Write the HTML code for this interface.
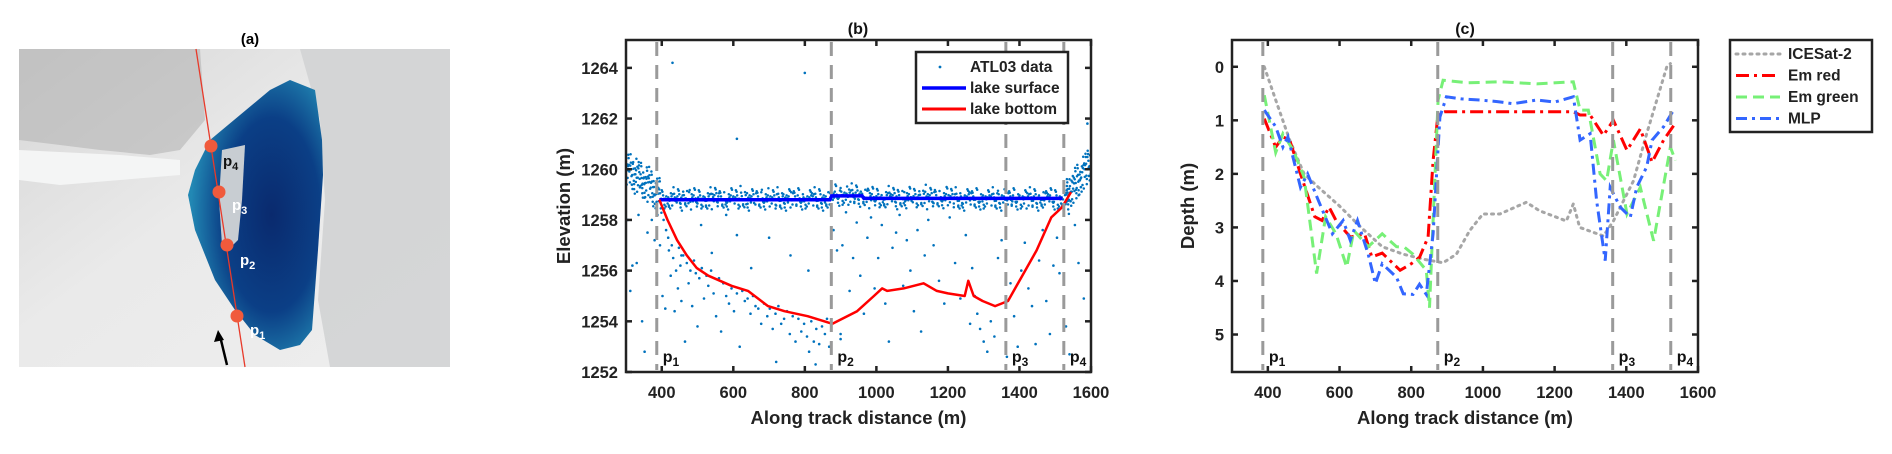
<!DOCTYPE html>
<html><head><meta charset="utf-8">
<style>
html,body{margin:0;padding:0;background:#fff;}
svg{display:block;font-family:"Liberation Sans",Arial,sans-serif;font-weight:bold;}
</style></head>
<body>
<svg id="fig" width="1892" height="454" viewBox="0 0 1892 454" xmlns="http://www.w3.org/2000/svg">
<defs>
<radialGradient id="lakeg" cx="0.62" cy="0.5" r="0.6">
<stop offset="0" stop-color="#0a2a6e"/><stop offset="0.6" stop-color="#0b3f86"/><stop offset="1" stop-color="#2288b4"/>
</radialGradient>
<linearGradient id="snowg" x1="0" y1="0" x2="1" y2="1">
<stop offset="0" stop-color="#d6d6d6"/><stop offset="0.45" stop-color="#eaeaea"/><stop offset="1" stop-color="#eeeeee"/>
</linearGradient>
</defs>
<g>
<text x="250" y="44" font-size="15" text-anchor="middle">(a)</text>
<rect x="19" y="49" width="431" height="318" fill="url(#snowg)"/>
<path d="M19,49 L200,49 L205,120 L180,150 L150,155 L100,150 L60,145 L19,140 Z" fill="#b4b4b4" opacity="0.6"/>
<path d="M300,49 L450,49 L450,367 L330,367 L318,300 L325,200 L320,120 Z" fill="#d2d3d4" opacity="0.9"/>
<path d="M19,150 L120,155 L180,160 L180,175 L120,180 L60,185 L19,180 Z" fill="#f4f5f5"/>
<path d="M290,80 L315,90 L322,140 L323,175 L318,250 L312,330 L300,345 L280,350 L255,335 L235,310 L215,280 L195,230 L188,195 L195,170 L210,140 L240,115 L270,90 Z" fill="url(#lakeg)"/>
<path d="M222,150 L245,145 L242,200 L238,240 L230,248 L222,245 L219,200 Z" fill="#c8cdd2"/>
<line x1="196" y1="49" x2="245" y2="367" stroke="#e83a2a" stroke-width="1.3"/>
<circle cx="211" cy="146" r="6.5" fill="#f05a3c"/>
<circle cx="219" cy="192" r="6.5" fill="#f05a3c"/>
<circle cx="227" cy="245" r="6.5" fill="#f05a3c"/>
<circle cx="237" cy="316" r="6.5" fill="#f05a3c"/>
<text x="223" y="166" font-size="15" fill="#111">p<tspan font-size="11" dy="4">4</tspan></text>
<text x="232" y="210" font-size="15" fill="#fff">p<tspan font-size="11" dy="4">3</tspan></text>
<text x="240" y="265" font-size="15" fill="#fff">p<tspan font-size="11" dy="4">2</tspan></text>
<text x="250" y="335" font-size="15" fill="#fff">p<tspan font-size="11" dy="4">1</tspan></text>
<line x1="227" y1="365" x2="220" y2="336" stroke="#000" stroke-width="2.5"/>
<path d="M218,330 L214,342 L224,340 Z" fill="#000"/>
</g>
<g id="pb"></g>
<g id="pc"></g>
</svg>
<script>
const bXTicks = [400, 600, 800, 1000, 1200, 1400, 1600];
const bYTicks = [1252, 1254, 1256, 1258, 1260, 1262, 1264];
const markerX = [386, 874, 1362, 1524];
const markerLabels = ['1', '2', '3', '4'];
const bottomX = [393, 416, 443, 470, 498, 530, 595, 641, 697, 743, 808, 877, 946, 993, 1016, 1030, 1076, 1132, 1169, 1200, 1247, 1257, 1272, 1297, 1332, 1368, 1408, 1448, 1489, 1519, 1544];
const bottomY = [1258.8, 1258.0, 1257.2, 1256.6, 1256.1, 1255.8, 1255.4, 1255.2, 1254.6, 1254.4, 1254.2, 1253.9, 1254.4, 1255.0, 1255.3, 1255.2, 1255.3, 1255.5, 1255.2, 1255.1, 1255.0, 1255.6, 1255.0, 1254.8, 1254.6, 1254.8, 1255.8, 1256.8, 1258.1, 1258.5, 1259.1];
const surfLineX = [393, 870, 875, 960, 965, 1520];
const surfLineY = [1258.8, 1258.8, 1258.95, 1258.95, 1258.85, 1258.85];
const surfPhotX = [300,310,320,330,340,350,360,370,380,390,400,420,440,460,480,500,520,540,560,580,600,620,640,660,680,700,720,740,760,780,800,820,840,860,880,900,920,940,960,980,1000,1020,1040,1060,1080,1100,1120,1140,1160,1180,1200,1220,1240,1260,1280,1300,1320,1340,1360,1380,1400,1420,1440,1460,1480,1500,1520,1530,1540,1550,1560,1570,1580,1590,1600];
const surfPhotY = [1260.0,1259.9,1259.8,1259.75,1259.6,1259.5,1259.4,1259.3,1259.1,1259.0,1258.85,1258.85,1258.85,1258.9,1258.85,1258.85,1258.85,1258.9,1258.85,1258.85,1258.85,1258.9,1258.85,1258.85,1258.85,1258.85,1258.85,1258.85,1258.85,1258.85,1258.85,1258.85,1258.85,1258.85,1259.0,1259.0,1259.0,1259.0,1258.95,1258.9,1258.9,1258.9,1258.9,1258.9,1258.9,1258.9,1258.95,1258.9,1258.9,1258.9,1258.9,1258.85,1258.85,1258.85,1258.85,1258.85,1258.85,1258.85,1258.85,1258.85,1258.85,1258.85,1258.85,1258.85,1258.85,1258.85,1258.9,1259.0,1259.2,1259.4,1259.6,1259.8,1260.0,1260.2,1260.3];
const noiseX = [305,312,318,330,345,352,360,372,380,388,395,402,405,410,412,418,420,425,428,432,436,440,445,448,452,455,460,465,470,475,480,485,490,495,500,505,512,518,525,530,538,545,552,560,566,572,580,588,595,602,610,618,625,632,640,648,655,662,670,678,686,695,702,710,718,726,734,742,750,758,766,774,782,790,798,806,812,818,825,832,840,848,856,862,868,430,455,510,540,580,610,650,700,720,760,800,830,880,890,900,905,915,925,935,945,955,965,975,985,995,1005,1015,1025,1035,1045,1055,1065,1075,1085,1095,1105,1115,1125,1135,1145,1160,1175,1190,1205,1220,1235,1250,1262,1268,1275,1282,1290,1300,1310,1320,1330,1340,1350,1365,1375,1385,1395,1405,1415,1425,1435,1445,1455,1465,1475,1485,1495,1505,1512,1530,1540,1555,1565,1580,1590,335,610,810,900];
const noiseY = [1258.0,1255.2,1256.2,1256.3,1254.0,1252.8,1257.5,1258.0,1257.2,1258.2,1257.0,1255.0,1258.0,1254.5,1257.6,1257.3,1256.8,1255.8,1257.0,1256.5,1254.4,1256.0,1255.3,1256.9,1256.2,1254.8,1256.6,1253.2,1256.3,1255.5,1256.0,1254.6,1256.4,1255.9,1253.8,1255.7,1256.1,1254.9,1255.8,1255.4,1256.0,1255.1,1254.2,1255.7,1253.6,1255.5,1255.0,1254.7,1255.3,1254.4,1255.1,1253.0,1255.2,1254.8,1254.9,1254.3,1255.0,1254.6,1254.5,1253.9,1254.7,1254.2,1254.5,1253.7,1254.3,1254.6,1253.9,1254.1,1254.4,1253.5,1254.2,1253.2,1254.1,1253.6,1253.9,1253.4,1252.8,1254.0,1253.2,1253.7,1253.1,1253.8,1253.5,1254.1,1253.0,1264.2,1256.6,1257.8,1256.7,1258.2,1261.2,1256.1,1257.3,1252.4,1256.6,1263.8,1252.3,1257.6,1256.8,1253.5,1257.0,1258.3,1255.2,1256.5,1257.9,1255.8,1254.3,1257.3,1258.1,1255.3,1256.5,1257.8,1254.7,1253.2,1256.9,1257.5,1258.2,1255.4,1257.2,1256.0,1254.4,1257.6,1253.6,1256.6,1258.0,1257.0,1255.6,1254.7,1258.1,1256.3,1254.9,1257.4,1253.9,1256.1,1255.0,1254.3,1253.7,1253.2,1252.8,1254.0,1253.4,1256.5,1257.2,1252.6,1255.5,1254.2,1253.0,1256.0,1257.1,1255.3,1254.6,1253.1,1256.4,1257.6,1254.8,1253.5,1256.2,1257.3,1255.9,1253.8,1252.7,1257.8,1256.3,1254.9,1261.8,1258.2,1257.4,1256.0,1253.3,1254.0,1264.2,1261.3,1264.0,1252.2];

const cYTicks = [0, 1, 2, 3, 4, 5];
const iceX = [390,422,461,501,541,600,660,719,778,838,889,926,963,1000,1047,1121,1158,1233,1252,1270,1336,1364,1420,1457,1513,1523];
const iceY = [0.0,0.62,1.37,2.0,2.25,2.6,3.0,3.36,3.5,3.6,3.66,3.5,3.06,2.75,2.75,2.53,2.69,2.88,2.56,3.0,3.16,2.88,2.13,1.25,0.0,-0.06];
const redX = [390,422,442,461,491,531,551,571,590,630,670,690,719,769,800,823,847,861,875,893,1252,1271,1299,1336,1364,1402,1439,1472,1504,1532];
const redY = [0.97,1.5,1.31,1.37,2.0,2.8,2.87,2.62,2.87,3.18,3.12,3.55,3.48,3.8,3.68,3.56,3.18,1.75,0.87,0.84,0.84,0.9,0.9,1.28,1.0,1.56,1.16,1.78,1.37,1.1];
const greenX = [390,422,442,471,501,536,561,590,620,640,680,719,759,781,805,842,851,875,889,960,1050,1150,1252,1271,1294,1327,1345,1364,1402,1439,1476,1523,1537];
const greenY = [0.53,1.6,1.25,1.56,2.06,3.86,2.8,3.12,3.74,3.06,3.36,3.12,3.36,3.37,3.5,3.8,4.5,0.62,0.25,0.3,0.28,0.32,0.28,0.81,0.81,2.0,2.13,1.37,2.75,2.25,3.25,1.5,1.75];
const mlpX = [390,422,442,456,491,511,541,580,610,630,650,680,700,719,759,778,805,823,842,861,880,898,940,991,1040,1084,1150,1200,1252,1271,1299,1317,1341,1355,1383,1411,1429,1457,1472,1504,1532];
const mlpY = [0.81,1.12,1.5,1.31,2.25,2.0,2.5,3.12,2.87,3.24,2.87,3.5,4.05,3.68,3.93,4.24,4.25,4.06,4.25,3.12,0.94,0.56,0.6,0.62,0.65,0.69,0.62,0.66,0.56,1.37,1.25,2.5,3.62,2.25,2.62,2.81,2.25,1.87,1.37,1.12,0.81];

const NS = 'http://www.w3.org/2000/svg';
function mk(parent, tag, attrs, text) {
  const e = document.createElementNS(NS, tag);
  for (const k in attrs) e.setAttribute(k, attrs[k]);
  if (text !== undefined) e.textContent = text;
  parent.appendChild(e);
  return e;
}
function lineStr(xs, ys, sx, sy) {
  return xs.map((v, i) => (i ? 'L' : 'M') + sx(v).toFixed(1) + ',' + sy(ys[i]).toFixed(1)).join(' ');
}

function axesFrame(g, L, T, R, B, sx, sy, xt, yt, yLabelOffset, yLabelText, title, titleX) {
  markerX.forEach((m, i) => {
    const ln = mk(g, 'line', {x1: sx(m), y1: T + 2, x2: sx(m), y2: B - 2, stroke: '#9a9a9a', 'stroke-width': 3, 'stroke-dasharray': '14,9'});
    
    
    const t = mk(g, 'text', {x: sx(m) + 6, y: B - 10, 'font-size': 16, fill: '#111'});
    
    
    t.textContent = 'p';
    mk(t, 'tspan', {'font-size': 12, dy: 4}, markerLabels[i]);
  });
  const fr = mk(g, 'rect', {x: L, y: T, width: R - L, height: B - T, fill: 'none', stroke: '#222', 'stroke-width': 2.5});
  
  
  xt.forEach(v => {
    const x = sx(v);
    const a = mk(g, 'line', {x1: x, y1: B, x2: x, y2: B - 6, stroke: '#222', 'stroke-width': 2.5});
    
    
    mk(g, 'line', {x1: x, y1: T, x2: x, y2: T + 6, stroke: '#222', 'stroke-width': 2.5});
    const lb = mk(g, 'text', {x: x, y: B + 26, 'font-size': 16.5, 'text-anchor': 'middle', fill: '#222'}, String(v));
    
    
  });
  yt.forEach(v => {
    const y = sy(v);
    const a = mk(g, 'line', {x1: L, y1: y, x2: L + 6, y2: y, stroke: '#222', 'stroke-width': 2.5});
    
    
    mk(g, 'line', {x1: R, y1: y, x2: R - 6, y2: y, stroke: '#222', 'stroke-width': 2.5});
    const lb = mk(g, 'text', {x: L - 8, y: y + 6, 'font-size': 16.5, 'text-anchor': 'end', fill: '#222'}, String(v));
    
    
  });
  const xl = mk(g, 'text', {x: (L + R) / 2, y: B + 52, 'font-size': 18.5, 'text-anchor': 'middle', fill: '#222'}, 'Along track distance (m)');
  
  
  const yl = mk(g, 'text', {x: 0, y: 0, 'font-size': 18.5, 'text-anchor': 'middle', fill: '#222', transform: 'translate(' + (L - yLabelOffset) + ',' + (T + B) / 2 + ') rotate(-90)'}, yLabelText);
  
  
  const tt = mk(g, 'text', {x: titleX, y: 34, 'font-size': 16, 'text-anchor': 'middle', fill: '#111'}, title);
  
  
}

(function () {
  const g = document.getElementById('pb');
  const L = 626, R = 1091, T = 40, B = 372;
  const sx = v => L + (v - 300) / 1300 * (R - L);
  const sy = v => B - (v - 1252) / 13.1 * (B - T);
  const clip = mk(g, 'clipPath', {id: 'clipb'});
  mk(clip, 'rect', {x: L, y: T, width: R - L, height: B - T});
  const dots = mk(g, 'g', {'clip-path': 'url(#clipb)', fill: '#0072bd'});
  
  
  const jy = [-0.32, -0.2, -0.1, 0, 0.08, 0.16, 0.26, -0.4, 0.36, -0.05, 0.12, -0.25];
  surfPhotX.forEach((x, i) => {
    const spread = (x < 400 || x > 1520) ? 1.7 : 1;
    const step = (x < 400 || x > 1520) ? 10 : 20;
    jy.forEach((d, k) => {
      const off = ((i * 7 + k * 5) % 11) / 11 * step;
      const dj = d * spread + (((i * 3 + k * 7) % 5) - 2) * 0.04;
      const c = mk(dots, 'circle', {cx: sx(x + off).toFixed(1), cy: sy(surfPhotY[i] + dj).toFixed(1), r: 1.25});
      
      
    });
  });
  noiseX.forEach((x, i) => {
    const c = mk(dots, 'circle', {cx: sx(x).toFixed(1), cy: sy(noiseY[i]).toFixed(1), r: 1.3});
    
    
  });
  const sl = mk(g, 'path', {d: lineStr(surfLineX, surfLineY, sx, sy), stroke: '#0000ff', 'stroke-width': 3.5, fill: 'none'});
  
  
  const bl = mk(g, 'path', {d: lineStr(bottomX, bottomY, sx, sy), stroke: '#ff0000', 'stroke-width': 2.5, fill: 'none', 'stroke-linejoin': 'round'});
  
  
  axesFrame(g, L, T, R, B, sx, sy, bXTicks, bYTicks, 56, 'Elevation (m)', '(b)', 858);
  const lg = mk(g, 'g', {});
  
  
  mk(lg, 'rect', {x: 916, y: 52, width: 152, height: 71, fill: '#fff', stroke: '#222', 'stroke-width': 2.5});
  const e1 = mk(lg, 'circle', {cx: 940, cy: 67, r: 1.4, fill: '#0072bd'});
  
  
  mk(lg, 'text', {x: 970, y: 72, 'font-size': 15.5, fill: '#222'}, 'ATL03 data');
  const e2 = mk(lg, 'line', {x1: 922, y1: 88, x2: 966, y2: 88, stroke: '#0000ff', 'stroke-width': 3.5});
  
  
  mk(lg, 'text', {x: 970, y: 93, 'font-size': 15.5, fill: '#222'}, 'lake surface');
  const e3 = mk(lg, 'line', {x1: 922, y1: 109, x2: 966, y2: 109, stroke: '#ff0000', 'stroke-width': 3});
  
  
  mk(lg, 'text', {x: 970, y: 114, 'font-size': 15.5, fill: '#222'}, 'lake bottom');
})();

(function () {
  const g = document.getElementById('pc');
  const L = 1232, R = 1698, T = 40, B = 372;
  const sx = v => L + (v - 300) / 1300 * (R - L);
  const sy = v => T + (v + 0.5) / 6.2 * (B - T);
  const series = [
    {x: iceX, y: iceY, c: '#a6a6a6', d: '2,5', w: 3, name: 'icesat2-line'},
    {x: redX, y: redY, c: '#ff0000', d: '13,5,3,5', w: 3, name: 'em-red-line'},
    {x: greenX, y: greenY, c: '#77f077', d: '11,6', w: 3, name: 'em-green-line'},
    {x: mlpX, y: mlpY, c: '#3366ff', d: '11,5,3,5', w: 3, name: 'mlp-line'}
  ];
  series.forEach(s => {
    const p = mk(g, 'path', {d: lineStr(s.x, s.y, sx, sy), stroke: s.c, 'stroke-width': s.w, fill: 'none', 'stroke-dasharray': s.d, 'stroke-linecap': s.d === '2,5' ? 'round' : 'butt'});
    
    
  });
  axesFrame(g, L, T, R, B, sx, sy, bXTicks, cYTicks, 38, 'Depth (m)', '(c)', 1465);
  const lg = mk(g, 'g', {});
  
  
  mk(lg, 'rect', {x: 1730, y: 40, width: 142, height: 92, fill: '#fff', stroke: '#222', 'stroke-width': 2.5});
  const labels = ['ICESat-2', 'Em red', 'Em green', 'MLP'];
  series.forEach((s, i) => {
    const y = 54 + i * 21.5;
    const l = mk(lg, 'line', {x1: 1736, y1: y, x2: 1780, y2: y, stroke: s.c, 'stroke-width': 3, 'stroke-dasharray': s.d, 'stroke-linecap': s.d === '2,5' ? 'round' : 'butt'});
    
    
    mk(lg, 'text', {x: 1788, y: y + 5, 'font-size': 15.5, fill: '#222'}, labels[i]);
  });
})();
</script>
</body></html>
